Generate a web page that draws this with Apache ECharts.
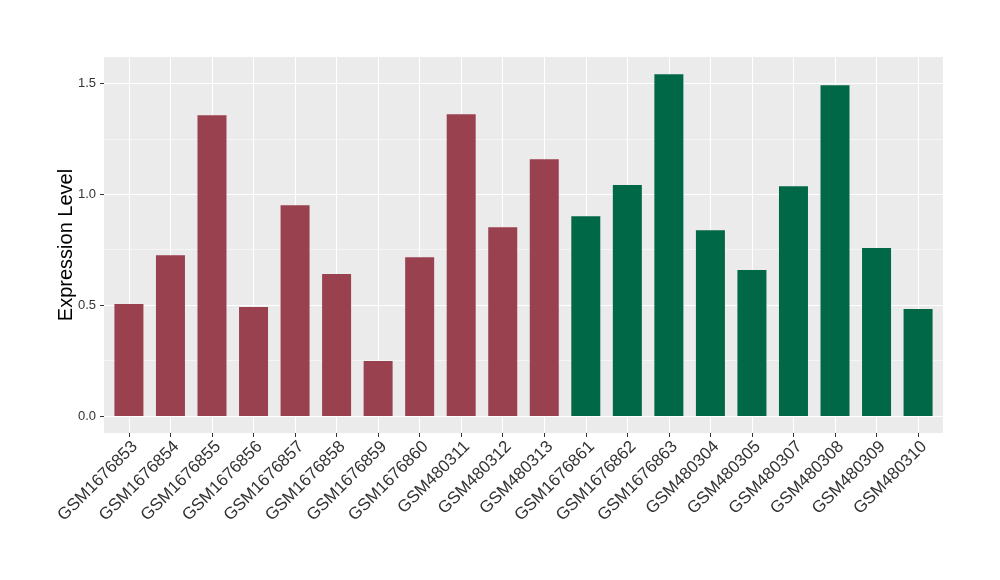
<!DOCTYPE html>
<html><head><meta charset="utf-8">
<script src="https://cdn.jsdelivr.net/npm/echarts@6/dist/echarts.min.js"></script>
<style>html,body{margin:0;padding:0;background:#fff}#c{width:1000px;height:580px}</style>
</head><body><div id="c"></div>
<script>
const categories = ["GSM1676853","GSM1676854","GSM1676855","GSM1676856","GSM1676857","GSM1676858","GSM1676859","GSM1676860","GSM480311","GSM480312","GSM480313","GSM1676861","GSM1676862","GSM1676863","GSM480304","GSM480305","GSM480307","GSM480308","GSM480309","GSM480310"];
const values = [0.505,0.725,1.356,0.491,0.950,0.640,0.248,0.716,1.360,0.851,1.158,0.901,1.041,1.541,0.838,0.658,1.036,1.491,0.757,0.482];
const groups = ["A","A","A","A","A","A","A","A","A","A","A","B","B","B","B","B","B","B","B","B"];
const groupColors = {A:"#9A4150", B:"#006747"};
const yTicks = [0, 0.5, 1.0, 1.5];
const yMinorTicks = [0.25, 0.75, 1.25];
const yTickLabels = ["0.0","0.5","1.0","1.5"];

const yMin = -0.0766, yMax = 1.6186;
const xIdx = categories.map((c,i)=>i);

const chart = echarts.init(document.getElementById('c'), null, {renderer:'canvas'});
chart.setOption({
  animation:false,
  grid:{left:104, right:57, top:57, bottom:147, show:true, backgroundColor:'#EBEBEB', borderWidth:0},
  xAxis:{
    type:'value', min:-0.6, max:categories.length-1+0.6,
    axisLine:{show:false, onZero:false},
    axisTick:{show:true, length:4, lineStyle:{color:'#333', width:1}, customValues:xIdx},
    axisLabel:{customValues:xIdx, rotate:45, margin:5, verticalAlign:'top', fontSize:17, color:'#333', fontFamily:'Liberation Sans, Arial, sans-serif',
      formatter:v=>categories[Math.round(v)]},
    splitLine:{show:true, lineStyle:{color:'#FFFFFF', width:1.1}}
  },
  yAxis:[{
    type:'value', min:yMin, max:yMax,
    name:'Expression Level', nameLocation:'middle', nameGap:28, nameMoveOverlap:false,
    nameTextStyle:{fontSize:20, color:'#000', fontFamily:'Liberation Sans, Arial, sans-serif'},
    axisLine:{show:false, onZero:false},
    axisTick:{show:true, length:4, lineStyle:{color:'#333', width:1}, customValues:yTicks},
    axisLabel:{customValues:yTicks, margin:8, fontSize:13, color:'#333', fontFamily:'Liberation Sans, Arial, sans-serif',
      formatter:v=>{const k=yTicks.findIndex(t=>Math.abs(t-v)<1e-6); return k>=0?yTickLabels[k]:'';}},
    splitLine:{show:true, lineStyle:{color:'#FFFFFF', width:1.1}}
  },{
    type:'value', min:yMin, max:yMax, position:'left',
    axisLine:{show:false, onZero:false}, axisLabel:{show:false},
    axisTick:{show:false, customValues:yMinorTicks},
    splitLine:{show:true, lineStyle:{color:'#FFFFFF', width:0.5}}
  }],
  series:[{
    type:'bar', barWidth:29,
    data: values.map((v,i)=>({value:[i,v], itemStyle:{color:groupColors[groups[i]]}}))
  }]
});
</script></body></html>
